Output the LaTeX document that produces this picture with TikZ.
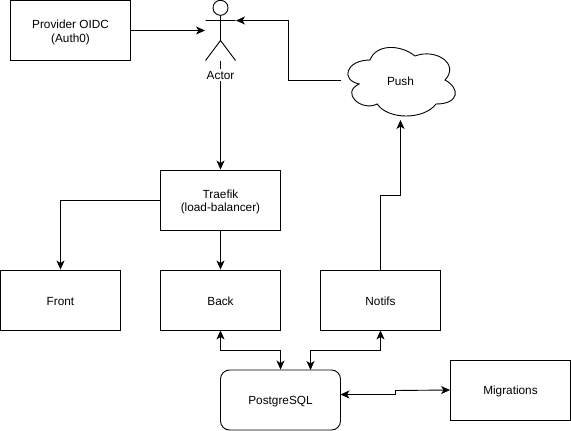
\documentclass[tikz,border=0pt]{standalone}
\usepackage{fontspec}
\setmainfont{Liberation Sans}
\usetikzlibrary{arrows.meta}
\tikzset{
  x=1pt,y=-1pt,
  plain/.style={inner sep=0pt,align=center,font=\fontsize{11.8}{13.5}\selectfont},
  box/.style={draw=black,line width=0.9pt,minimum width=120pt,minimum height=60pt,inner sep=0pt,fill=white,label={[plain,yshift=-1.7pt]center:#1}},
  link/.style={draw=black,line width=0.9pt,-{Stealth[length=9pt,width=8pt,inset=2.5pt]}},
  duplex/.style={draw=black,line width=0.9pt,{Stealth[length=9pt,width=8pt,inset=2.5pt]}-{Stealth[length=9pt,width=8pt,inset=2.5pt]}},
  figure/.style={draw=black,line width=0.9pt}
}
\begin{document}
\begin{tikzpicture}
\useasboundingbox (0,0) rectangle (571,431);
\node[box={Provider OIDC\\(Auth0)}] (provider) at (70.5,30.5) {};
\node[box={Traefik\\(load-balancer)}] (traefik) at (220.5,200) {};
\node[box=Front] (front) at (60.5,300) {};
\node[box=Back] (back) at (220.5,300) {};
\node[box=Notifs] (notifs) at (380.5,300) {};
\node[box=PostgreSQL,rounded corners=9pt] (pg) at (280.5,400) {};
\node[box=Migrations] (migrations) at (510.5,390) {};
% actor
\draw[figure] (220.5,7.8) circle (7.5);
\draw[figure] (220.5,15.3) -- (220.5,40.5) (205.5,20.5) -- (235.5,20.5) (220.5,40.5) -- (205.5,60.5) (220.5,40.5) -- (235.5,60.5);
\coordinate (actorarm) at (236,20.5);
\coordinate (actorside) at (205,30.5);
\coordinate (actorfoot) at (220.5,60.5);
% cloud
\draw[figure] (370,60)
  .. controls (346,60) and (340,80) .. (359.2,84)
  .. controls (340,92.8) and (361.6,112) .. (377.2,104)
  .. controls (388,120) and (424,120) .. (436,104)
  .. controls (460,104) and (460,88) .. (445,80)
  .. controls (460,64) and (436,48) .. (415,56)
  .. controls (400,44) and (376,44) .. (370,60) -- cycle;
\node[plain] (push) at (400.5,81.5) {Push};
\coordinate (cloudleft) at (341,80.5);
\coordinate (cloudbottom) at (400.5,120);
% connectors
\draw[link] (provider.east) -- (actorside);
\draw[link] (cloudleft) -- (288.5,80.5) -- (288.5,20.5) -- (actorarm);
\draw[link] (actorfoot) -- (traefik.north);
\node[plain,fill=white,inner xsep=1pt,inner ysep=2pt] (actorlabel) at (220.5,75) {Actor};
\draw[link] (traefik.west) -- (60.5,200) -- (front.north);
\draw[link] (traefik.south) -- (back.north);
\draw[link] (notifs.north) -- (380.5,195) -- (400.5,195) -- (cloudbottom);
\draw[duplex] (back.south) -- (220.5,350.5) -- (280.5,350.5) -- (pg.north);
\draw[duplex] (notifs.south) -- (380.5,350.5) -- (310.5,350.5) -- (310.5,370);
\draw[duplex] (340.5,394.5) -- (395.5,394.5) -- (395.5,390.5) -- (migrations.west);
\end{tikzpicture}
\end{document}
